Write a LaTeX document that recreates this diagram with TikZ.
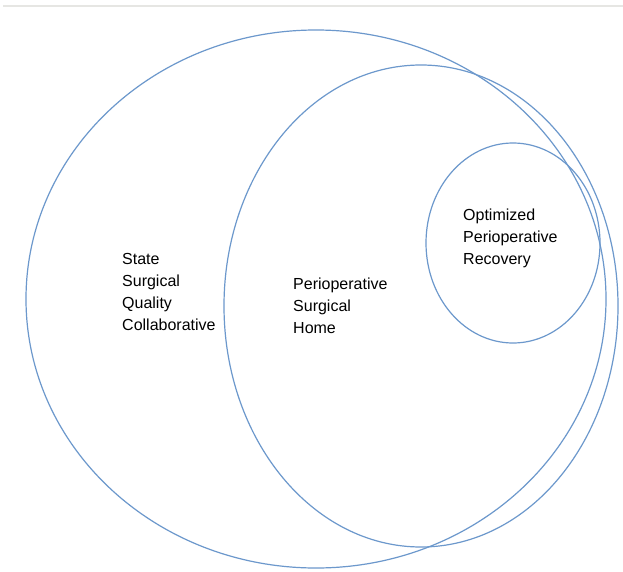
\documentclass[tikz,border=0pt]{standalone}
\usepackage{fontspec}
\setmainfont{Liberation Sans}
\definecolor{ringblue}{RGB}{108,152,204}
\definecolor{bargray}{RGB}{230,230,227}
\begin{document}
\begin{tikzpicture}[x=1pt,y=-1pt,
  ring/.style={draw=ringblue,line width=1.2pt},
  lbl/.style={anchor=base west,inner sep=0pt,align=left,font=\fontsize{16}{22}\selectfont,text=black}]
\useasboundingbox (0,0) rectangle (623,572);
\fill[white] (0,0) rectangle (623,572);
\draw[bargray,line width=2.5pt] (3,6) -- (623,6);
\draw[ring] (316,299) ellipse [x radius=290, y radius=269];
\draw[ring] (421,306) ellipse [x radius=197, y radius=241];
\draw[ring] (513,243) ellipse [x radius=87, y radius=100];
% base anchor = baseline of the last line
\node[lbl] (ssqc) at (122,330) {State\\Surgical\\Quality\\Collaborative};
\node[lbl] (psh) at (293,333) {Perioperative\\Surgical\\Home};
\node[lbl] (opr) at (463,264) {Optimized\\Perioperative\\Recovery};
\end{tikzpicture}
\end{document}
